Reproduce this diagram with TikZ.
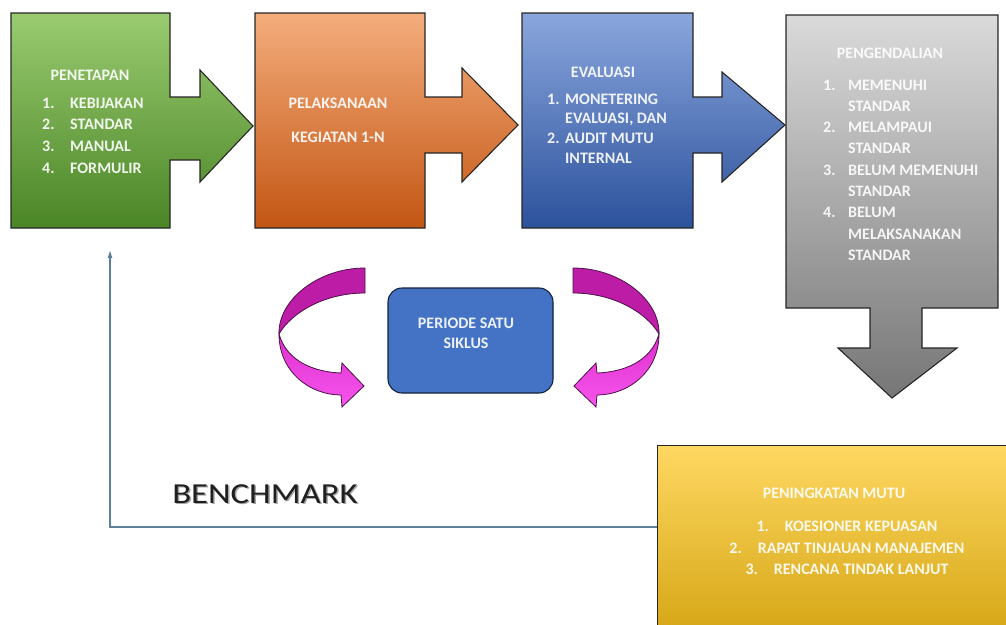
\documentclass[tikz,border=0pt]{standalone}
\usepackage{fontspec}
\setmainfont{Carlito}
\usetikzlibrary{arrows.meta,positioning}

\definecolor{greenTop}{HTML}{9ACB70}
\definecolor{greenBot}{HTML}{4A8526}
\definecolor{orangeTop}{HTML}{F4AD7C}
\definecolor{orangeBot}{HTML}{C35614}
\definecolor{blueTop}{HTML}{8AA6DD}
\definecolor{blueBot}{HTML}{2C529C}
\definecolor{greyTop}{HTML}{DADADA}
\definecolor{greyBot}{HTML}{767676}
\definecolor{yellowTop}{HTML}{FFD862}
\definecolor{yellowBot}{HTML}{C99800}
\definecolor{periodeBlue}{HTML}{4472C4}
\definecolor{pinkBack}{HTML}{BC1CA6}
\definecolor{pinkFrontTop}{HTML}{DF30CF}
\definecolor{pinkFrontBot}{HTML}{F655EC}
\definecolor{pinkEdge}{HTML}{4B1247}
\definecolor{fbLine}{HTML}{5F7F9A}

\tikzset{
	boxline/.style={draw=black!85, line width=1.1pt},
	boxtext/.style={text=white, text opacity=0.9, inner sep=0pt,
		font=\fontsize{16}{21.5}\selectfont\bfseries},
	pinkline/.style={draw=pinkEdge, line width=0.8pt},
	mutubox/.style={boxline, top color=yellowTop, bottom color=yellowBot,
		minimum width=400pt, minimum height=240pt, anchor=north west},
	periodebox/.style={draw=black!70!periodeBlue, line width=1.1pt, fill=periodeBlue,
		rounded corners=14pt, minimum width=165pt, minimum height=105pt},
	feedback/.style={draw=fbLine, line width=1.1pt, -{Latex[length=8pt,width=5pt]}},
}

% list with the numbers in a column of their own
\newcommand{\numlist}[2]{\begin{tabular}[t]{@{}p{#1}@{}l@{}}#2\end{tabular}}

% one of the two curved arrows round the cycle box
\newcommand{\siklusarrow}{%
	\path[pinkline, fill=pinkBack] (365,268) .. controls (318,268) and (278,300) .. (279,334)
		.. controls (292,312) and (325,293) .. (365,293) -- cycle;
	\path[pinkline, top color=pinkFrontTop, bottom color=pinkFrontBot] (279,334)
		.. controls (279,372) and (310,395) .. (341,395) -- (342,407) -- (364,386) -- (342,363)
		-- (341,373) .. controls (315,372) and (287,362) .. (279,334) -- cycle;
}

\begin{document}
\begin{tikzpicture}[x=1pt,y=-1pt]
	\useasboundingbox (0,0) rectangle (1006,624);

	% the four steps, each box with its arrow
	\path[boxline, top color=greenTop, bottom color=greenBot]
		(11,13) -- (170,13) -- (170,97) -- (200,97) -- (200,70) -- (253,126) -- (200,182)
		-- (200,160) -- (170,160) -- (170,228) -- (11,228) -- cycle;
	\path[boxline, top color=orangeTop, bottom color=orangeBot]
		(255,13) -- (425,13) -- (425,97) -- (462,97) -- (462,68) -- (518,125) -- (462,182)
		-- (462,153) -- (425,153) -- (425,228) -- (255,228) -- cycle;
	\path[boxline, top color=blueTop, bottom color=blueBot]
		(522,13) -- (693,13) -- (693,97) -- (722,97) -- (722,72) -- (785,125) -- (722,182)
		-- (722,153) -- (693,153) -- (693,228) -- (522,228) -- cycle;
	\path[boxline, top color=greyTop, bottom color=greyBot]
		(786,15) -- (998,15) -- (998,308) -- (922,308) -- (922,348) -- (957,348) -- (892,398)
		-- (838,348) -- (870,348) -- (870,308) -- (786,308) -- cycle;

	\node[boxtext] (penetapan) at (90,75) {PENETAPAN};
	\node[boxtext, anchor=base west, font=\fontsize{16}{21.7}\selectfont\bfseries]
		(penetapanlist) at (42,108)
		{\numlist{28pt}{1. & KEBIJAKAN\\ 2. & STANDAR\\ 3. & MANUAL\\ 4. & FORMULIR}};

	\node[boxtext, align=center] (pelaksanaan) at (338,120)
		{PELAKSANAAN\\[12.5pt]KEGIATAN 1-N};

	\node[boxtext] (evaluasi) at (603,72) {EVALUASI};
	\node[boxtext, anchor=base west, font=\fontsize{16}{19.7}\selectfont\bfseries]
		(evaluasilist) at (547,104)
		{\numlist{18pt}{1. & MONETERING\\ & EVALUASI, DAN\\ 2. & AUDIT MUTU\\ & INTERNAL}};

	\node[boxtext] (pengendalian) at (890,53) {PENGENDALIAN};
	\node[boxtext, anchor=base west, font=\fontsize{16}{21.3}\selectfont\bfseries]
		(pengendalianlist) at (823,90)
		{\numlist{25pt}{1. & MEMENUHI\\ & STANDAR\\ 2. & MELAMPAUI\\ & STANDAR\\
			3. & BELUM MEMENUHI\\ & STANDAR\\ 4. & BELUM\\ & MELAKSANAKAN\\ & STANDAR}};

	% cycle in the middle
	\node[periodebox] (periode) at (470.5,340.5) {};
	\node[boxtext, align=center, font=\fontsize{16}{20}\selectfont\bfseries]
		(periodetext) at (466,333) {PERIODE SATU\\SIKLUS};
	\siklusarrow
	\begin{scope}[xshift=938pt, xscale=-1]
		\siklusarrow
	\end{scope}

	% peningkatan mutu and the way back
	\node[mutubox] (mutu) at (657,445) {};
	\node[boxtext] (mututitle) at (834,493) {PENINGKATAN MUTU};
	\node[boxtext, align=center] (mutulist) at (847,548)
		{1.\hspace{16pt}KOESIONER KEPUASAN\\ 2.\hspace{16pt}RAPAT TINJAUAN MANAJEMEN\\
		 3.\hspace{16pt}RENCANA TINDAK LANJUT};

	\coordinate (fbcorner) at (110,527);
	\coordinate (fbend) at (110,250);
	\draw[feedback] (mutu.west |- fbcorner) -- (fbcorner) -- (fbend);

	\node[text=black!35, font=\fontsize{29}{30}\selectfont] (benchshadow) at (266.5,495.5)
		{\scalebox{1.2}[1]{BENCHMARK}};
	\node[text=black!88, font=\fontsize{29}{30}\selectfont] (benchmark) at (265,494)
		{\scalebox{1.2}[1]{BENCHMARK}};
\end{tikzpicture}
\end{document}
